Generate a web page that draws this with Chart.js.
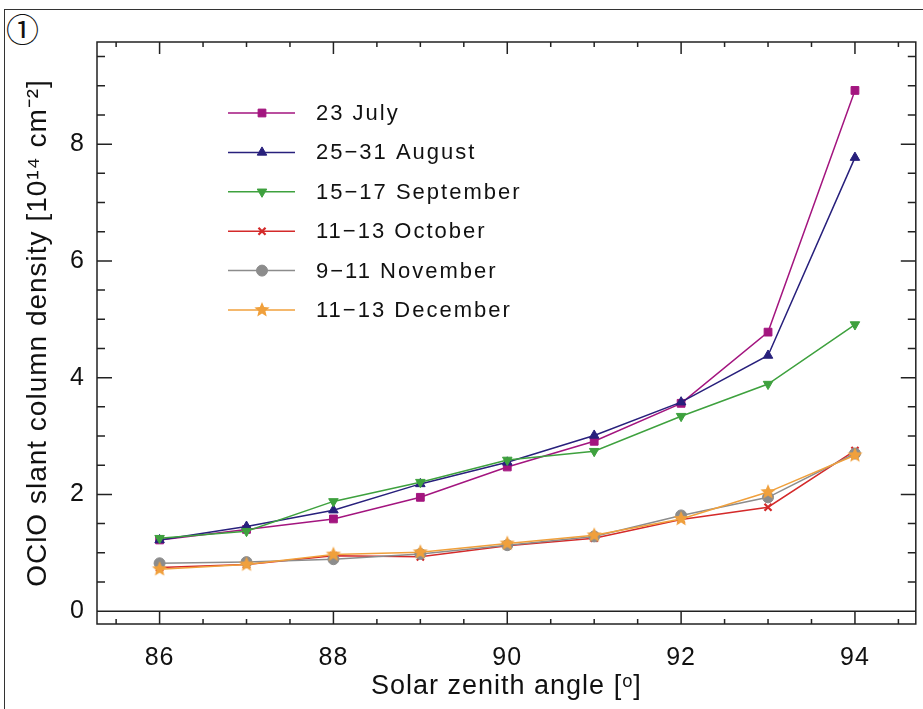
<!DOCTYPE html>
<html>
<head>
<meta charset="utf-8">
<script src="https://cdn.jsdelivr.net/npm/chart.js@4.4.0/dist/chart.umd.min.js"></script>
<style>
  html, body { margin: 0; padding: 0; background: #fff; }
  #wrap { position: relative; width: 923px; height: 709px; overflow: hidden; }
  #frame { position: absolute; left: 4px; top: 9px; width: 940px; height: 740px; border: 1.5px solid #333; box-sizing: border-box; }
  #num { position: absolute; left: 6px; top: 10px; font: 33px 'Noto Sans CJK JP'; line-height: 36px; color: #111; }
  #chart-box { position: absolute; left: 0; top: 0; width: 923px; height: 709px; }
</style>
</head>
<body>
<div id="wrap">
  <div id="frame"></div>
  <div id="num">①</div>
  <div id="chart-box"><canvas id="ocloChart"></canvas></div>
</div>
<script>
// Data
const angles = [86, 87, 88, 89, 90, 91, 92, 93, 94];
const july = [1.22, 1.40, 1.58, 1.95, 2.47, 2.91, 3.56, 4.78, 8.92];
const august = [1.22, 1.45, 1.73, 2.18, 2.55, 3.01, 3.58, 4.38, 7.77];
const september = [1.25, 1.37, 1.88, 2.21, 2.59, 2.74, 3.34, 3.89, 4.91];
const october = [0.75, 0.80, 0.95, 0.93, 1.12, 1.25, 1.57, 1.78, 2.75];
const november = [0.82, 0.84, 0.89, 0.98, 1.13, 1.28, 1.64, 1.95, 2.70];
const december = [0.72, 0.80, 0.97, 1.01, 1.16, 1.30, 1.58, 2.04, 2.67];

const seriesLabels = ['23 July', '25\u221231 August', '15\u221217 September', '11\u221213 October', '9\u221211 November', '11\u221213 December'];
const xTicks = [86, 88, 90, 92, 94];
const yTicks = [0, 2, 4, 6, 8];

// filled five point star for the December series
function makeStar(color, r) {
    const c = document.createElement('canvas');
    c.width = c.height = r * 2 + 2;
    const g = c.getContext('2d');
    g.fillStyle = color;
    g.beginPath();
    for (let i = 0; i < 10; i++) {
        const rad = i % 2 === 0 ? r : r * 0.45;
        const a = -Math.PI / 2 + i * Math.PI / 5;
        g.lineTo(r + 1 + rad * Math.cos(a), r + 1 + rad * Math.sin(a));
    }
    g.closePath();
    g.fill();
    return c;
}

const colors = ['#a3157f', '#28207c', '#3ea13e', '#d42a2a', '#8c8c8c', '#f0a03c'];
const styles = ['rect', 'triangle', 'triangle', 'crossRot', 'circle', makeStar('#f0a03c', 8)];
const rotations = [0, 0, 180, 0, 0, 0];
const values = [july, august, september, october, november, december];

const datasets = values.map(function(vals, i) {
    return {
        label: seriesLabels[i],
        data: angles.map(function(a, j) { return {x: a, y: vals[j]}; }),
        borderColor: colors[i],
        backgroundColor: colors[i],
        borderWidth: 1.5,
        pointStyle: styles[i],
        pointRotation: rotations[i],
        pointRadius: i === 3 ? 5 : 5.5,
        pointBorderWidth: i === 3 ? 2.2 : 1,
        order: -i
    };
});

// wider text spacing, the original uses a broad plotting font
const textSpacing = {
    id: 'textSpacing',
    beforeDraw(chart) { chart.ctx.letterSpacing = '1px'; }
};

// box around the plot, zero line and inward ticks on all four sides
const frameTicks = {
    id: 'frameTicks',
    beforeDatasetsDraw(chart) {
        const ctx = chart.ctx;
        const a = chart.chartArea;
        const x = chart.scales.x, y = chart.scales.y;
        ctx.save();
        ctx.strokeStyle = '#222';
        ctx.lineWidth = 1.5;
        ctx.strokeRect(a.left, a.top, a.right - a.left, a.bottom - a.top);
        ctx.beginPath();
        const zero = y.getPixelForValue(0);
        ctx.moveTo(a.left, zero); ctx.lineTo(a.right, zero);
        for (let v = Math.ceil(x.min * 2) / 2; v <= x.max; v += 0.5) {
            const px = x.getPixelForValue(v);
            const len = xTicks.includes(v) ? 12 : 5;
            ctx.moveTo(px, a.bottom); ctx.lineTo(px, a.bottom - len);
            ctx.moveTo(px, a.top); ctx.lineTo(px, a.top + len);
        }
        for (let v = Math.ceil(y.min * 2) / 2; v <= y.max; v += 0.5) {
            const py = y.getPixelForValue(v);
            const len = yTicks.includes(v) ? 15 : 8;
            ctx.moveTo(a.left, py); ctx.lineTo(a.left + len, py);
            ctx.moveTo(a.right, py); ctx.lineTo(a.right - len, py);
        }
        ctx.stroke();
        ctx.restore();
    }
};

// legend inside the plot, upper left
const insideLegend = {
    id: 'insideLegend',
    afterDatasetsDraw(chart) {
        const ctx = chart.ctx;
        ctx.save();
        chart.data.datasets.forEach(function(ds, i) {
            const yy = 113 + i * 39.4;
            ctx.strokeStyle = ds.borderColor;
            ctx.lineWidth = 1.5;
            ctx.beginPath();
            ctx.moveTo(228, yy); ctx.lineTo(295, yy);
            ctx.stroke();
            ctx.fillStyle = ds.backgroundColor;
            ctx.lineWidth = ds.pointBorderWidth;
            Chart.helpers.drawPoint(ctx, {
                pointStyle: ds.pointStyle, rotation: ds.pointRotation,
                radius: ds.pointRadius, borderWidth: ds.pointBorderWidth
            }, 262, yy);
            ctx.fillStyle = '#111';
            ctx.font = '22px "Liberation Sans"';
            ctx.letterSpacing = '2px';
            ctx.textBaseline = 'middle';
            ctx.fillText(ds.label, 316, yy + 1);
        });
        ctx.restore();
    }
};

const ctx = document.getElementById('ocloChart').getContext('2d');
new Chart(ctx, {
    type: 'line',
    data: { datasets: datasets },
    options: {
        responsive: true,
        maintainAspectRatio: false,
        animation: false,
        layout: { padding: { left: 0, top: 42, right: 5, bottom: 0 } },
        plugins: {
            legend: { display: false },
            tooltip: { enabled: false }
        },
        scales: {
            x: {
                type: 'linear',
                min: 85.28,
                max: 94.7,
                grid: { display: false },
                border: { display: false },
                afterBuildTicks: function(scale) {
                    scale.ticks = xTicks.map(function(v) { return {value: v}; });
                },
                afterFit: function(scale) { scale.height = 85; },
                ticks: {
                    autoSkip: false,
                    maxRotation: 0,
                    padding: 11,
                    color: '#111',
                    font: { family: 'Liberation Sans', size: 25 }
                },
                title: {
                    display: true,
                    text: 'Solar zenith angle [\u1D52]',
                    color: '#111',
                    font: { family: 'Liberation Sans', size: 27 },
                    padding: { top: 0, bottom: 6 }
                }
            },
            y: {
                min: -0.22,
                max: 9.75,
                grid: { display: false },
                border: { display: false },
                afterBuildTicks: function(scale) {
                    scale.ticks = yTicks.map(function(v) { return {value: v}; });
                },
                afterFit: function(scale) { scale.width = 97; },
                ticks: {
                    autoSkip: false,
                    padding: 4,
                    color: '#111',
                    font: { family: 'Liberation Sans', size: 25 }
                },
                title: {
                    display: true,
                    text: 'OClO slant column density [10\u00B9\u2074 cm\u207B\u00B2]',
                    color: '#111',
                    font: { family: 'Liberation Sans', size: 28 },
                    padding: { top: 21, bottom: 0 }
                }
            }
        }
    },
    plugins: [textSpacing, frameTicks, insideLegend]
});
</script>
</body>
</html>
